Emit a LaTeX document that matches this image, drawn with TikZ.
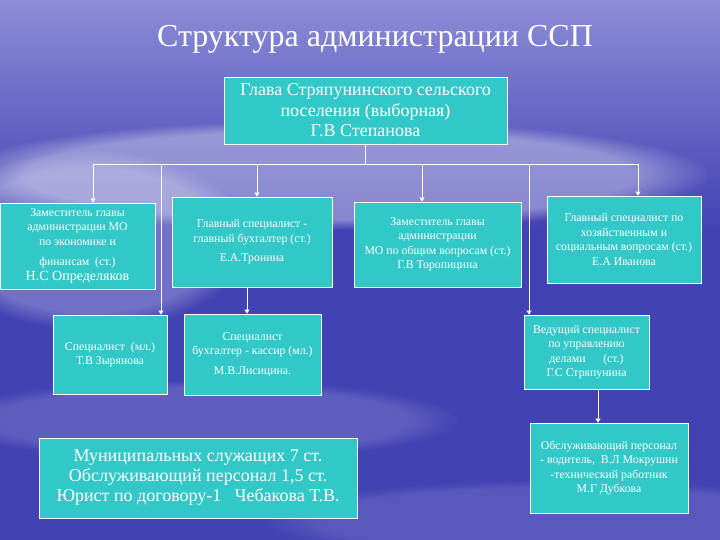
\documentclass[tikz,border=0pt]{standalone}
\usepackage{fontspec}
\setmainfont{Liberation Serif}
\usetikzlibrary{arrows.meta,fadings}

\definecolor{boxfill}{RGB}{50,200,200}
\definecolor{seadark}{RGB}{66,66,180}
\definecolor{sealight}{RGB}{140,140,215}

\begin{document}
\begin{tikzpicture}[
    x=1pt, y=-1pt,
    box/.style={draw=white, line width=0.8pt, fill=boxfill, text=white,
        align=center, inner sep=1pt, font=\fontsize{11.8}{14.5}\selectfont},
    conn/.style={draw=white, line width=0.9pt},
    arr/.style={conn, -{Triangle[width=5pt,length=4pt]}}
]

% Background
\useasboundingbox (0,0) rectangle (720,540);
\fill[seadark] (0,0) rectangle (720,540);
\shade[top color=sealight, bottom color=seadark] (0,0) rectangle (720,230);
\fill[white, opacity=0.35, path fading=circle with fuzzy edge 20 percent]
    (330,175) ellipse (380 and 55);
\fill[white, opacity=0.25, path fading=circle with fuzzy edge 20 percent]
    (90,240) ellipse (160 and 90);
\fill[white, opacity=0.15, path fading=circle with fuzzy edge 20 percent]
    (200,420) ellipse (260 and 40);
\fill[white, opacity=0.12, path fading=circle with fuzzy edge 20 percent]
    (560,520) ellipse (300 and 40);

% Title
\node[text=white, font=\fontsize{32}{36}\selectfont] (title) at (375,39)
    {Структура администрации ССП};

% Top box
\node[box, minimum width=283, minimum height=67,
    font=\fontsize{18}{20.5}\selectfont] (top) at (365.5,110.5)
    {Глава Стряпунинского сельского\\поселения (выборная)\\Г.В Степанова};

% First row
\node[box, minimum width=155, minimum height=86] (b1) at (77.5,246)
    {Заместитель главы\\администрации МО\\по экономике и\\[6pt]финансам \ (ст.)\\
     {\fontsize{14}{14}\selectfont Н.С Определяков}};
\node[box, minimum width=160, minimum height=90] (b2) at (252,242)
    {Главный специалист -\\главный бухгалтер (ст.)\\[5pt]Е.А.Тронина};
\node[box, minimum width=167, minimum height=85] (b3) at (437.5,244.5)
    {Заместитель главы\\администрации\\МО по общим вопросам (ст.)\\Г.В Торопицина};
\node[box, minimum width=154, minimum height=87] (b4) at (624,239.5)
    {Главный специалист по\\хозяйственным и\\социальным вопросам (ст.)\\Е.А Иванова};

% Second row
\node[box, minimum width=114, minimum height=79] (b5) at (110,354.5)
    {Специалист \ (мл.)\\Т.В Зырянова};
\node[box, minimum width=137, minimum height=81] (b6) at (252.5,354.5)
    {Специалист\\бухгалтер - кассир (мл.)\\[5pt]М.В.Лисицина.};
\node[box, minimum width=125, minimum height=74] (b7) at (586.5,352)
    {Ведущий специалист\\по управлению\\делами \quad\ (ст.)\\Г.С Стряпунина};

% Bottom row
\node[box, minimum width=318, minimum height=80,
    font=\fontsize{18}{20}\selectfont] (b9) at (198,478)
    {Муниципальных служащих 7 ст.\\Обслуживающий персонал 1,5 ст.\\
     Юрист по договору-1 \ \ Чебакова Т.В.};
\node[box, minimum width=158, minimum height=90] (b8) at (609,468)
    {Обслуживающий персонал\\- водитель, \ В.Л Мокрушин\\-технический работник\\М.Г Дубкова};

% Connectors
\coordinate (bus1) at (93,164);
\coordinate (bus2) at (257,164);
\coordinate (bus3) at (422,164);
\coordinate (bus4) at (638,164);
\coordinate (bus5) at (161,164);
\coordinate (bus6) at (529,164);
\coordinate (down26) at (247,0);
\coordinate (down78) at (598,0);

\draw[conn] (top.south) -- (top.south |- bus1);
\draw[conn] (bus1) -- (bus4);
\draw[arr] (bus1) -- (bus1 |- b1.north);
\draw[arr] (bus2) -- (bus2 |- b2.north);
\draw[arr] (bus3) -- (bus3 |- b3.north);
\draw[arr] (bus4) -- (bus4 |- b4.north);
\draw[arr] (bus5) -- (bus5 |- b5.north);
\draw[arr] (bus6) -- (bus6 |- b7.north);
\draw[arr] (down26 |- b2.south) -- (down26 |- b6.north);
\draw[arr] (down78 |- b7.south) -- (down78 |- b8.north);

\end{tikzpicture}
\end{document}
